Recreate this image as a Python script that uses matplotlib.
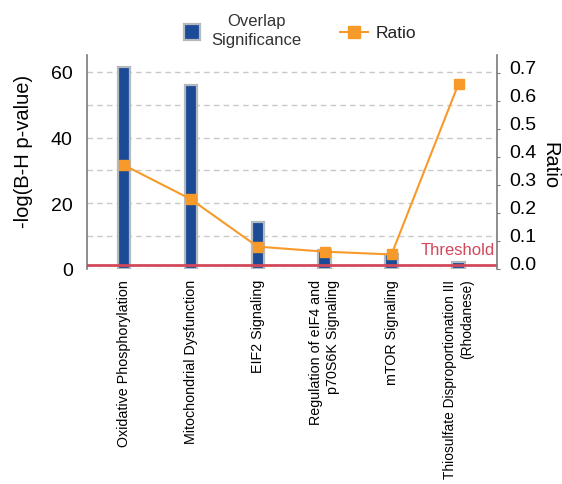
import matplotlib
matplotlib.use("Agg")
import matplotlib.pyplot as plt
from matplotlib.lines import Line2D
from matplotlib import font_manager

plt.rcParams['font.family'] = ['Liberation Sans', 'DejaVu Sans']
names = {f.name for f in font_manager.fontManager.ttflist}
narrow_ok = 'Liberation Sans Narrow' in names
NARROW = ['Liberation Sans Narrow', 'Liberation Sans'] if narrow_ok else ['Liberation Sans']

categories = ["Oxidative Phosphorylation",
              "Mitochondrial Dysfunction",
              "EIF2 Signaling",
              "Regulation of eIF4 and\np70S6K Signaling",
              "mTOR Signaling",
              "Thiosulfate Disproportionation III\n(Rhodanese)"]
significance = [61.3, 56.0, 14.3, 5.9, 4.6, 2.2]
ratio = [0.372, 0.250, 0.080, 0.062, 0.052, 0.662]
threshold = 1.3
left_ticks = [0, 20, 40, 60]
right_ticks = [0.0, 0.1, 0.2, 0.3, 0.4, 0.5, 0.6, 0.7]

BLUE = "#1b4a97"
EDGE = "#b4b8bf"
ORANGE = "#f79a2a"
RED = "#d2475a"
GRID = "#c8c8c8"
SPINE = "#7a7a7a"

fig = plt.figure(figsize=(5.62, 4.85), dpi=100)
ax = fig.add_axes([86.7/562, 1-270/485, 410/562, 214/485])
x = list(range(len(categories)))

ax.set_xlim(-0.55, 5.57)
ax.set_ylim(0, 65.1)
for g in [0, 10, 20, 30, 40, 50, 60]:
    ax.axhline(g, color=GRID, lw=1.0, ls=(0, (4, 3)), zorder=0)

ax.bar(x, significance, width=0.18, color=BLUE, edgecolor=EDGE, linewidth=1.6, zorder=2)
ax.axhline(threshold, color=RED, lw=2.0, zorder=3)
ax.text(5.55, 3.6, "Threshold", color=RED, fontsize=12, ha="right", va="bottom", zorder=5)

ax.set_yticks(left_ticks)
ax.set_yticklabels([str(t) for t in left_ticks], fontsize=14)
ax.tick_params(axis="y", length=0, pad=10)
ax.set_xticks(x)
base = 12.3 if narrow_ok else 10.3
labels = ax.set_xticklabels(categories, rotation=90, fontsize=base, linespacing=1.35,
                            family=NARROW, va="top", ha="center", multialignment="right")
labels[-1].set_fontsize(base * 0.965)
ax.tick_params(axis="x", length=0, pad=7)
ax.set_ylabel("-log(B-H p-value)", fontsize=14.5)
ax.yaxis.set_label_coords(-0.130, 0.553)

for s in ["top", "right", "bottom"]:
    ax.spines[s].set_visible(False)
ax.spines["left"].set_color(SPINE)
ax.spines["left"].set_linewidth(1.2)

ax2 = ax.twinx()
ax2.set_ylim(0, 0.765)
ax2.plot(x, ratio, color=ORANGE, lw=1.5, marker="s", markersize=7, markerfacecolor=ORANGE,
         markeredgecolor=ORANGE, zorder=6)
ax2.set_yticks(right_ticks)
ax2.set_yticklabels([f"{t:.1f}" for t in right_ticks], fontsize=14, va="baseline")
ax2.tick_params(axis="y", length=2, color=SPINE, pad=7)
for s in ["top", "left", "bottom"]:
    ax2.spines[s].set_visible(False)
ax2.spines["right"].set_color(SPINE)
ax2.spines["right"].set_linewidth(1.2)
ax2.set_ylabel("Ratio", fontsize=14.5, rotation=-90, va="center")
ax2.yaxis.set_label_coords(1.130, 0.49)

# legend
fig.add_artist(Line2D([191.7/562], [1-33/485], marker="s", markersize=11, markerfacecolor=BLUE,
                      markeredgecolor=EDGE, markeredgewidth=1.6, linestyle="none",
                      transform=fig.transFigure))
fig.text(256.7/562, 1-31/485, "Overlap\nSignificance", fontsize=12, ha="center", va="center",
         color="#333333", linespacing=1.3)
fig.add_artist(Line2D([340/562, 368/562], [1-33/485, 1-33/485], color=ORANGE, lw=1.5,
                      transform=fig.transFigure))
fig.add_artist(Line2D([354/562], [1-33/485], marker="s", markersize=9, color=ORANGE,
                      linestyle="none", transform=fig.transFigure))
fig.text(376/562, 1-33/485, "Ratio", fontsize=12.5, ha="left", va="center", color="#222222")

fig.savefig("out.png", dpi=100)
